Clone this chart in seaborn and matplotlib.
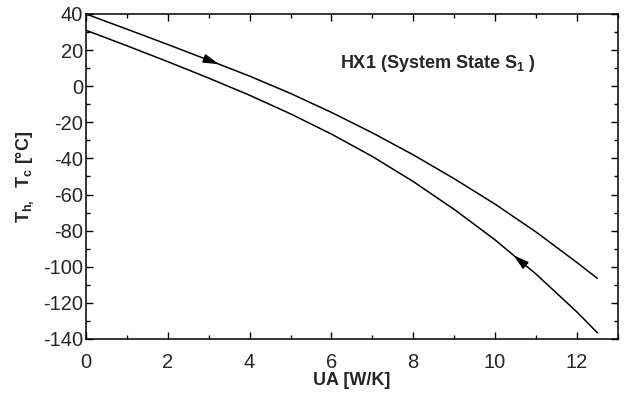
import numpy as np
import pandas as pd
import matplotlib
matplotlib.use("Agg")
import matplotlib.pyplot as plt
import seaborn as sns
from matplotlib.ticker import MultipleLocator

# ---- data ----
ua = [0, 1, 2, 3, 4, 5, 6, 7, 8, 9, 10, 11, 12, 12.5]
t_hot = [40, 31.6, 23.1, 14.4, 5.6, -4.0, -14.5, -25.8, -38.0, -51.2, -65.3, -80.7, -97.6, -106.4]
t_cold = [31.0, 22.4, 13.6, 4.5, -5.0, -15.3, -26.5, -38.9, -52.8, -68.2, -85.1, -104.0, -125.0, -136.5]
arrow_x_hot = 3.25     # arrow tip, pointing toward increasing UA
arrow_x_cold = 10.45   # arrow tip, pointing toward decreasing UA
x_ticks = [0, 2, 4, 6, 8, 10, 12]
y_ticks = [40, 20, 0, -20, -40, -60, -80, -100, -120, -140]

sns.set_style("ticks")
plt.rcParams["font.family"] = ["Liberation Sans", "DejaVu Sans"]
plt.rcParams["axes.unicode_minus"] = False
plt.rcParams["mathtext.fontset"] = "custom"
plt.rcParams["mathtext.rm"] = "Liberation Sans:bold"
plt.rcParams["mathtext.bf"] = "Liberation Sans:bold"

df = pd.DataFrame({
    "UA": ua + ua,
    "T": t_hot + t_cold,
    "stream": ["hot"] * len(ua) + ["cold"] * len(ua),
})

fig = plt.figure(figsize=(6.24, 3.94), dpi=100)
ax = fig.add_axes([0.1378, 0.1396, 0.8522, 0.8249])
sns.lineplot(data=df, x="UA", y="T", hue="stream", palette={"hot": "black", "cold": "black"},
             linewidth=1.1, legend=False, ax=ax, sort=True, estimator=None)

# direction arrows
def add_arrow(xa, xs, ys, direction):
    ya = np.interp(xa, xs, ys)
    dx = 0.3 * direction
    yb = np.interp(xa - dx, xs, ys)
    ax.annotate("", xy=(xa, ya), xytext=(xa - dx, yb),
                arrowprops=dict(arrowstyle="-|>,head_length=0.95,head_width=0.27",
                                color="black", lw=1.0, shrinkA=0, shrinkB=0))

add_arrow(arrow_x_hot, ua, t_hot, 1)
add_arrow(arrow_x_cold, ua, t_cold, -1)

ax.set_xlim(0, 13)
ax.set_ylim(-140, 40)
ax.set_xticks(x_ticks)
ax.set_yticks(y_ticks)
ax.xaxis.set_minor_locator(MultipleLocator(1))
ax.yaxis.set_minor_locator(MultipleLocator(10))
ax.tick_params(which="both", direction="in", top=True, right=True, labelsize=14.5, width=1.0, color="black")
ax.tick_params(which="major", length=5)
ax.tick_params(which="minor", length=3)
ax.tick_params(axis="x", which="major", pad=10)
ax.tick_params(axis="y", which="major", pad=2)
for s in ax.spines.values():
    s.set_linewidth(1.1)
    s.set_color("black")

ax.set_xlabel("UA [W/K]", fontsize=13, fontweight="bold", labelpad=0)
ax.set_ylabel(r"T$_\mathrm{h,}$  T$_\mathrm{c}$ [°C]", fontsize=13, fontweight="bold", labelpad=5)

ax.text(6.2, 12.5, r"HX1 (System State S$_\mathrm{1}$ )", fontsize=13, fontweight="bold",
        ha="left", va="center")

fig.savefig("out.png", dpi=100)
